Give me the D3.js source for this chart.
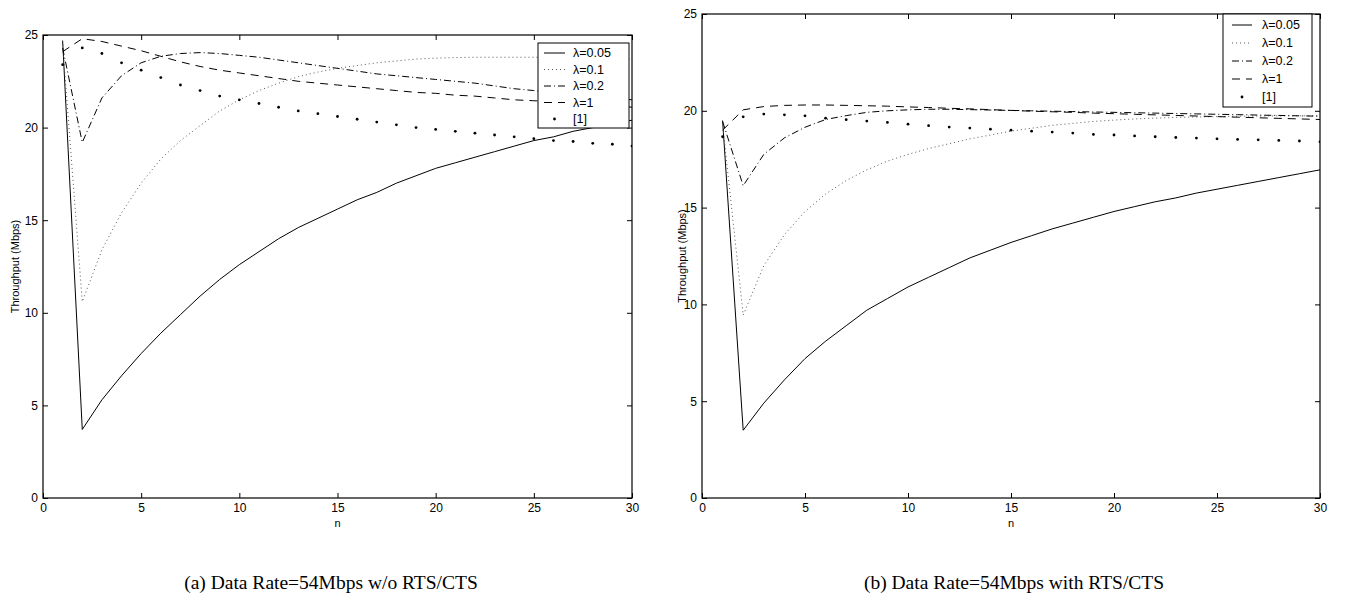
<!DOCTYPE html>
<html><head><meta charset="utf-8">
<script src="https://cdn.jsdelivr.net/npm/d3@7"></script>
<style>body{margin:0;background:#fff}svg{display:block}</style>
</head><body>
<svg id="c" width="1345" height="603"></svg>
<script>
// ---------- data ----------
const nValues = [1,2,3,4,5,6,7,8,9,10,11,12,13,14,15,16,17,18,19,20,21,22,23,24,25,26,27,28,29,30];
const xTickValues = [0,5,10,15,20,25,30];
const yTickValues = [0,5,10,15,20,25];
const seriesLabels = ["λ=0.05","λ=0.1","λ=0.2","λ=1","[1]"];
const yAxisTitle = "Throughput (Mbps)";
const xAxisTitle = "n";
const captionA = "(a) Data Rate=54Mbps w/o RTS/CTS";
const captionB = "(b) Data Rate=54Mbps with RTS/CTS";

// (a) without RTS/CTS
const aLambda005 = [24.7,3.7,5.3,6.6,7.8,8.9,9.9,10.9,11.8,12.6,13.3,14.0,14.6,15.1,15.6,16.1,16.5,17.0,17.4,17.8,18.1,18.4,18.7,19.0,19.3,19.5,19.8,20.0,20.2,20.4];
const aLambda01  = [24.5,10.6,13.4,15.4,17.0,18.3,19.3,20.1,20.9,21.5,22.0,22.4,22.75,23.0,23.2,23.35,23.5,23.6,23.7,23.75,23.78,23.8,23.8,23.8,23.8,23.8,23.78,23.76,23.73,23.7];
const aLambda02  = [24.3,19.2,21.6,22.8,23.5,23.85,24.0,24.05,24.0,23.9,23.8,23.65,23.5,23.35,23.2,23.05,22.9,22.8,22.7,22.6,22.5,22.4,22.25,22.1,22.0,21.9,21.8,21.7,21.6,21.5];
const aLambda1   = [24.1,24.8,24.65,24.4,24.15,23.85,23.55,23.3,23.1,22.95,22.8,22.65,22.5,22.4,22.3,22.2,22.1,22.0,21.9,21.85,21.75,21.7,21.6,21.5,21.45,21.4,21.3,21.25,21.2,21.1];
const aRef1      = [23.4,24.3,24.0,23.5,23.1,22.7,22.3,22.0,21.7,21.5,21.3,21.1,20.9,20.75,20.6,20.45,20.3,20.15,20.0,19.9,19.8,19.7,19.6,19.5,19.4,19.3,19.25,19.15,19.1,19.0];

// (b) with RTS/CTS
const bLambda005 = [19.5,3.5,4.9,6.1,7.2,8.1,8.9,9.7,10.3,10.9,11.4,11.9,12.4,12.8,13.2,13.55,13.9,14.2,14.5,14.8,15.05,15.3,15.5,15.75,15.95,16.15,16.35,16.55,16.75,16.95];
const bLambda01  = [19.3,9.45,12.0,13.6,14.8,15.7,16.4,16.95,17.4,17.75,18.05,18.3,18.55,18.75,18.95,19.1,19.25,19.35,19.45,19.52,19.58,19.62,19.66,19.68,19.7,19.72,19.73,19.74,19.74,19.75];
const bLambda02  = [19.45,16.13,17.75,18.6,19.15,19.55,19.75,19.92,20.0,20.05,20.08,20.08,20.06,20.04,20.02,20.0,19.98,19.96,19.94,19.92,19.9,19.88,19.86,19.84,19.82,19.8,19.78,19.76,19.74,19.72];
const bLambda1   = [19.0,20.05,20.22,20.28,20.3,20.3,20.28,20.26,20.24,20.2,20.17,20.13,20.1,20.06,20.02,19.98,19.95,19.92,19.88,19.85,19.82,19.79,19.76,19.73,19.7,19.67,19.64,19.61,19.58,19.55];
const bRef1      = [18.66,19.69,19.83,19.79,19.74,19.62,19.54,19.47,19.4,19.31,19.23,19.16,19.11,19.05,19.0,18.95,18.9,18.85,18.78,18.75,18.7,18.66,18.62,18.59,18.55,18.52,18.5,18.47,18.44,18.4];

// ---------- drawing ----------
const SANS = "'Liberation Sans', Arial, Helvetica, sans-serif";
const SERIF = "'Liberation Serif', 'Times New Roman', serif";
const lineStyles = [
  {dash: null, color: "#000", w: 1},
  {dash: "1,3", color: "#555", w: 1},
  {dash: "7,3,1,3", color: "#000", w: 1},
  {dash: "8,6", color: "#000", w: 1},
  {marker: true}
];

const svg = d3.select("#c");
svg.append("rect").attr("width",1345).attr("height",603).attr("fill","#fff");

function drawPanel(id, cfg, series, caption) {
  const x = d3.scaleLinear().domain([0,30]).range([cfg.x0, cfg.x1]);
  const y = d3.scaleLinear().domain([0,25]).range([cfg.y0, cfg.y1]);
  const g = svg.append("g");
  const clipId = "clip" + id;
  g.append("clipPath").attr("id", clipId).append("rect")
    .attr("x", cfg.x0).attr("y", cfg.y1).attr("width", cfg.x1-cfg.x0).attr("height", cfg.y0-cfg.y1);
  const plot = g.append("g").attr("clip-path", `url(#${clipId})`);

  series.forEach((vals, i) => {
    const st = lineStyles[i];
    const pts = nValues.map((n, k) => [n, vals[k]]);
    if (st.marker) {
      plot.selectAll(null).data(pts).enter().append("circle")
        .attr("cx", d => x(d[0])).attr("cy", d => y(d[1])).attr("r", 1.4).attr("fill", "#000");
    } else {
      plot.append("path").datum(pts)
        .attr("d", d3.line().x(d => x(d[0])).y(d => y(d[1])))
        .attr("fill","none").attr("stroke", st.color).attr("stroke-width", st.w)
        .attr("stroke-dasharray", st.dash);
    }
  });

  // axes with inward ticks on all sides
  const fmt = d3.format("d");
  const axB = g.append("g").attr("transform", `translate(0,${cfg.y0})`)
    .call(d3.axisBottom(x).tickValues(xTickValues).tickFormat(fmt).tickSizeInner(-5).tickSizeOuter(0).tickPadding(5));
  const axT = g.append("g").attr("transform", `translate(0,${cfg.y1})`)
    .call(d3.axisTop(x).tickValues(xTickValues).tickFormat("").tickSizeInner(-5).tickSizeOuter(0));
  const axL = g.append("g").attr("transform", `translate(${cfg.x0},0)`)
    .call(d3.axisLeft(y).tickValues(yTickValues).tickFormat(fmt).tickSizeInner(-5).tickSizeOuter(0).tickPadding(5));
  const axR = g.append("g").attr("transform", `translate(${cfg.x1},0)`)
    .call(d3.axisRight(y).tickValues(yTickValues).tickFormat("").tickSizeInner(-5).tickSizeOuter(0));
  [axB, axT, axL, axR].forEach(a => {
    a.selectAll(".domain").remove();
    a.selectAll("line").attr("stroke","#000").attr("stroke-width",1);
    a.selectAll("text").attr("font-family", SANS).attr("font-size", cfg.tickFont).attr("fill","#000");
  });
  g.append("rect").attr("x", cfg.x0).attr("y", cfg.y1)
    .attr("width", cfg.x1-cfg.x0).attr("height", cfg.y0-cfg.y1)
    .attr("fill","none").attr("stroke","#000").attr("stroke-width",1.2);

  // legend
  const L = cfg.legend;
  const lg = g.append("g").attr("transform", `translate(${L.x},${L.y})`);
  lg.append("rect").attr("width", L.w).attr("height", L.h).attr("fill","#fff")
    .attr("stroke","#000").attr("stroke-width",1);
  seriesLabels.forEach((lab, i) => {
    const st = lineStyles[i];
    const ry = L.first + i*L.rowH;
    if (st.marker) {
      lg.append("circle").attr("cx", (L.s0+L.s1)/2).attr("cy", ry).attr("r",1.4).attr("fill","#000");
    } else {
      lg.append("line").attr("x1", L.s0).attr("x2", L.s1).attr("y1", ry).attr("y2", ry)
        .attr("stroke", st.color).attr("stroke-width", st.w).attr("stroke-dasharray", st.dash);
    }
    lg.append("text").attr("x", L.tx).attr("y", ry).attr("dy","0.35em")
      .attr("font-family", SANS).attr("font-size", L.font).text(lab);
  });

  // axis titles
  g.append("text").attr("transform", `translate(${cfg.ylabX},${(cfg.y0+cfg.y1)/2}) rotate(-90)`)
    .attr("text-anchor","middle").attr("font-family", SANS).attr("font-size", cfg.labFont).text(yAxisTitle);
  g.append("text").attr("x", (cfg.x0+cfg.x1)/2).attr("y", cfg.xlabY)
    .attr("text-anchor","middle").attr("font-family", SANS).attr("font-size", cfg.labFont).text(xAxisTitle);
  // caption
  g.append("text").attr("x", cfg.capX).attr("y", cfg.capY)
    .attr("text-anchor","middle").attr("font-family", SERIF).attr("font-size", cfg.capFont).text(caption);
}

drawPanel("a", {
  x0: 43, x1: 632, y0: 498, y1: 35, tickFont: 12, labFont: 11,
  ylabX: 19, xlabY: 527, capX: 331, capY: 589, capFont: 19.5,
  legend: {x: 538, y: 43, w: 91, h: 85, first: 10, rowH: 16.5, s0: 6, s1: 27, tx: 35, font: 12.5}
}, [aLambda005, aLambda01, aLambda02, aLambda1, aRef1], captionA);

drawPanel("b", {
  x0: 702, x1: 1320, y0: 498, y1: 14, tickFont: 12, labFont: 11,
  ylabX: 686, xlabY: 527, capX: 1014, capY: 589, capFont: 19.5,
  legend: {x: 1223, y: 14, w: 89, h: 93, first: 11, rowH: 18, s0: 9, s1: 29, tx: 39, font: 12.5}
}, [bLambda005, bLambda01, bLambda02, bLambda1, bRef1], captionB);
</script>
</body></html>
